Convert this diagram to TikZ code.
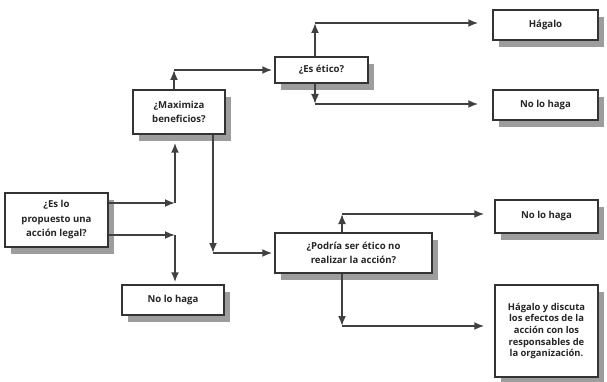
\documentclass[tikz,border=0pt]{standalone}
\usepackage{fontspec}
\setmainfont{Open Sans}
\usetikzlibrary{arrows.meta,shadows}

\tikzset{
  caja/.style={draw=black!80, line width=1.5pt, fill=white, align=center, inner sep=2pt,
    font=\fontsize{9.6}{14.5}\selectfont\bfseries, text=black!85,
    drop shadow={shadow xshift=6pt, shadow yshift=-7pt, fill=black!55, opacity=.7}},
  flecha/.style={draw=black!75, line width=1.8pt, -{Latex[length=10pt,width=8pt]}},
}

\begin{document}
\begin{tikzpicture}[x=1pt,y=-1pt]
        \useasboundingbox (0,0) rectangle (607,382);

        \node[caja, minimum width=103pt, minimum height=54pt] (legal) at (56.5,220) {¿Es lo\\propuesto una\\acción legal?};
        \node[caja, minimum width=92pt, minimum height=44pt] (maxim) at (179,112) {¿Maximiza\\beneficios?};
        \node[caja, minimum width=102pt, minimum height=30pt] (nolo1) at (173,300) {No lo haga};
        \node[caja, minimum width=93pt, minimum height=26pt] (etico) at (321.5,70) {¿Es ético?};
        \node[caja, minimum width=105pt, minimum height=30pt] (hagalo) at (545.5,25) {Hágalo};
        \node[caja, minimum width=105pt, minimum height=30pt] (nolo2) at (545.5,105) {No lo haga};
        \node[caja, minimum width=157pt, minimum height=40pt] (podria) at (353.5,253) {¿Podría ser ético no\\realizar la acción?};
        \node[caja, minimum width=103pt, minimum height=33pt] (nolo3) at (546.5,216.5) {No lo haga};
        \node[caja, minimum width=103pt, minimum height=92pt, font=\fontsize{9.4}{11.7}\selectfont\bfseries] (discuta) at (546.5,331) {Hágalo y discuta\\los efectos de la\\acción con los\\responsables de\\la organización.};

        \coordinate (e1) at (175,203);
        \coordinate (e2) at (175,235);
        \coordinate (e3) at (174,70);
        \coordinate (e4) at (213,253);
        \coordinate (e5) at (315,23);
        \coordinate (e6) at (315,104);
        \coordinate (e7) at (342,214);
        \coordinate (e8) at (342,326);

        \draw[flecha] (legal.east |- e1) -- (e1);
        \draw[flecha, shorten >=8pt] (e1) -- (maxim.south -| e1);
        \draw[flecha] (legal.east |- e2) -- (e2);
        \draw[flecha, shorten >=2pt] (e2) -- (nolo1.north -| e2);

        \draw[flecha] (maxim.north -| e3) -- (e3);
        \draw[flecha, shorten >=2pt] (e3) -- (etico.west |- e3);
        \draw[flecha] (maxim.south -| e4) -- (e4);
        \draw[flecha, shorten >=2pt] (e4) -- (podria.west |- e4);

        \draw[flecha] (etico.north -| e5) -- (e5);
        \draw[flecha, shorten >=14pt] (e5) -- (hagalo.west |- e5);
        \draw[flecha] (etico.south -| e6) -- (e6);
        \draw[flecha, shorten >=14pt] (e6) -- (nolo2.west |- e6);

        \draw[flecha] (podria.north -| e7) -- (e7);
        \draw[flecha, shorten >=10pt] (e7) -- (nolo3.west |- e7);
        \draw[flecha] (podria.south -| e8) -- (e8);
        \draw[flecha, shorten >=10pt] (e8) -- (discuta.west |- e8);

\end{tikzpicture}
\end{document}
